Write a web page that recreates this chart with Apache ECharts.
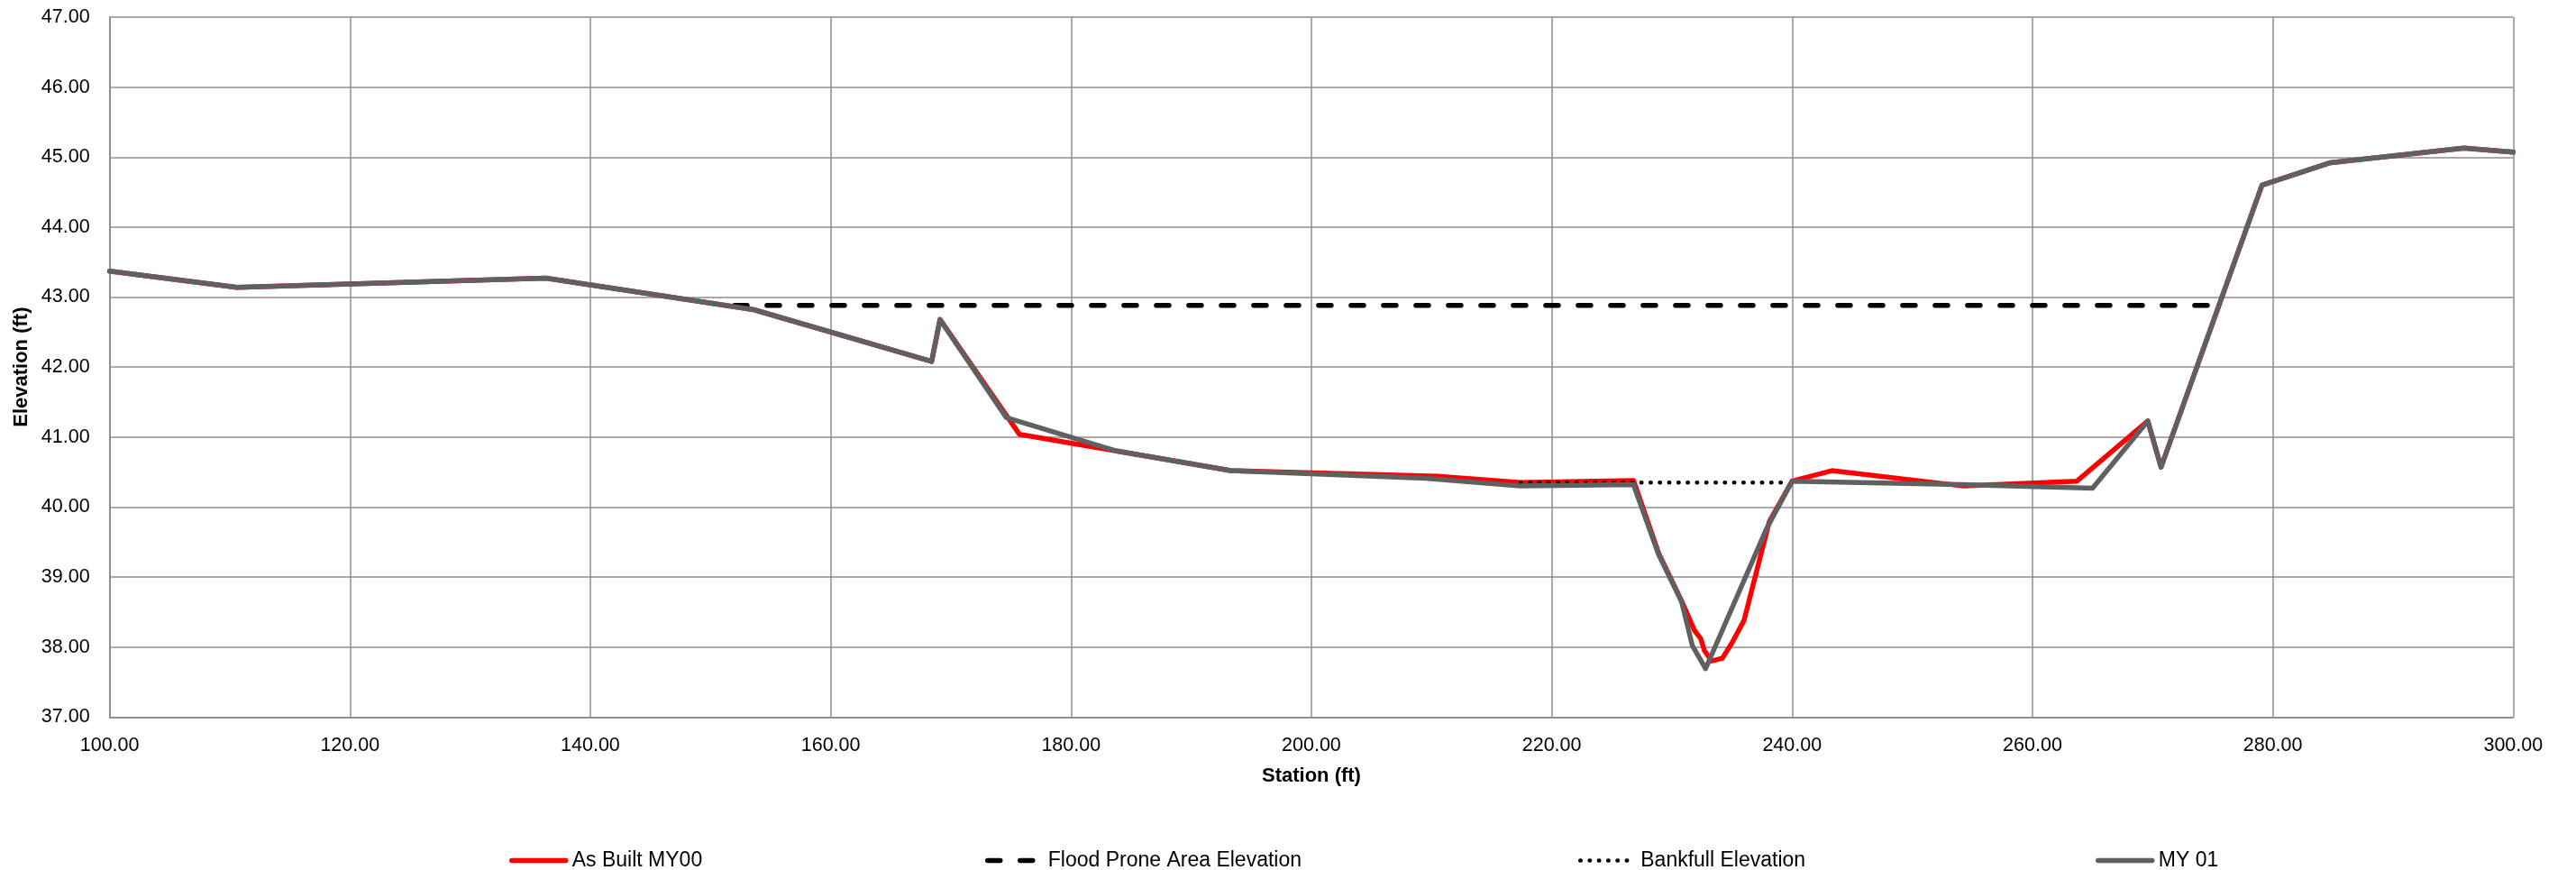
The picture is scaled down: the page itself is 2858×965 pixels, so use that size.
<!DOCTYPE html>
<html>
<head>
<meta charset="utf-8">
<script src="https://cdn.jsdelivr.net/npm/echarts@6/dist/echarts.min.js"></script>
<style>
html,body{margin:0;padding:0;background:#fff;}
#chart{width:2858px;height:965px;}
</style>
</head>
<body>
<div id="chart"></div>
<script>
// ---- data ----
const asBuiltStation = [100, 110.6, 136.3, 153.6, 168.4, 169.1, 175.7, 183.8, 193.3, 210.5, 217.4, 226.8, 228.9, 230.8, 231.9, 232.4, 232.7, 233.3, 234.2, 235.0, 236.0, 238.1, 240.0, 243.3, 254.3, 263.7, 269.6, 270.7, 279.1, 284.8, 295.9, 300];
const asBuiltElev    = [43.37, 43.14, 43.27, 42.82, 42.08, 42.68, 41.04, 40.80, 40.52, 40.44, 40.35, 40.38, 39.34, 38.66, 38.23, 38.12, 37.95, 37.80, 37.84, 38.06, 38.38, 39.79, 40.37, 40.52, 40.30, 40.37, 41.23, 40.57, 44.60, 44.92, 45.13, 45.07];

const my01Station = [100, 110.6, 136.3, 153.6, 168.4, 169.1, 174.6, 183.8, 193.3, 209.5, 217.4, 226.8, 228.9, 230.8, 231.7, 232.8, 237.9, 240.0, 254.1, 265.0, 269.6, 270.7, 279.1, 284.8, 295.9, 300];
const my01Elev    = [43.37, 43.14, 43.27, 42.82, 42.08, 42.68, 41.28, 40.80, 40.52, 40.41, 40.30, 40.32, 39.32, 38.65, 38.02, 37.69, 39.70, 40.37, 40.32, 40.27, 41.23, 40.57, 44.60, 44.92, 45.13, 45.07];

const floodStation = [152.0, 275.4];
const floodElev    = [42.88, 42.88];

const bankfullStation = [217.4, 239.6];
const bankfullElev    = [40.35, 40.35];

const seriesNames = ['As Built MY00', 'Flood Prone Area Elevation', 'Bankfull Elevation', 'MY 01'];
const xTicks = {min: 100, max: 300, interval: 20};
const yTicks = {min: 37, max: 47, interval: 1};

function pairs(xs, ys){ return xs.map((x,i)=>[x, ys[i]]); }

const FONT = '"Liberation Sans", Arial, sans-serif';
const gridColor = '#8e8e8e';

const chart = echarts.init(document.getElementById('chart'), null, {renderer:'canvas'});

const legendLefts = [560, 1088, 1746, 2320];
const legendWidths = [5.5, 5.5, 4.5, 5.5];
const legends = seriesNames.map((n, i) => ({
  data: [n],
  left: legendLefts[i],
  top: 938,
  orient: 'horizontal',
  itemWidth: 60,
  itemHeight: 24,
  itemStyle: {opacity: 0},
  lineStyle: {width: legendWidths[i]},
  textStyle: {fontFamily: FONT, fontSize: 23, color: '#000', padding: [0,0,0,2]},
  selectedMode: false
}));

chart.setOption({
  animation: false,
  backgroundColor: '#fff',
  grid: {left: 121.6, right: 69.7, top: 19, bottom: 169.7, containLabel: false},
  legend: legends,
  xAxis: {
    type: 'value', min: xTicks.min, max: xTicks.max, interval: xTicks.interval,
    name: 'Station (ft)', nameLocation: 'middle', nameGap: 55,
    nameTextStyle: {fontFamily: FONT, fontSize: 22, fontWeight: 'bold', color: '#000'},
    axisLine: {show: true, onZero: false, lineStyle: {color: gridColor, width: 2}},
    axisTick: {show: false},
    axisLabel: {fontFamily: FONT, fontSize: 21.5, color: '#000', margin: 21,
                alignMinLabel: 'center', alignMaxLabel: 'center', hideOverlap: false,
                formatter: v => v.toFixed(2)},
    splitLine: {show: true, lineStyle: {color: gridColor, width: 1.5}}
  },
  yAxis: {
    type: 'value', min: yTicks.min, max: yTicks.max, interval: yTicks.interval,
    name: 'Elevation (ft)', nameLocation: 'middle', nameGap: 83,
    nameTextStyle: {fontFamily: FONT, fontSize: 22, fontWeight: 'bold', color: '#000'},
    axisLine: {show: true, lineStyle: {color: gridColor, width: 2}},
    axisTick: {show: false},
    axisLabel: {fontFamily: FONT, fontSize: 21.5, color: '#000', margin: 22,
                formatter: v => v.toFixed(2)},
    splitLine: {show: true, lineStyle: {color: gridColor, width: 1.5}}
  },
  series: [
    {
      name: seriesNames[0], type: 'line', data: pairs(asBuiltStation, asBuiltElev),
      symbol: 'none', color: '#ff0000',
      lineStyle: {color: '#ff0000', width: 5.5, join: 'round', cap: 'round'}
    },
    {
      name: seriesNames[1], type: 'line', data: pairs(floodStation, floodElev),
      symbol: 'none', color: '#000',
      lineStyle: {color: '#000', width: 5.5, type: [14, 22], cap: 'round'}
    },
    {
      name: seriesNames[2], type: 'line', data: pairs(bankfullStation, bankfullElev),
      symbol: 'none', color: '#000',
      lineStyle: {color: '#000', width: 4.5, type: [0.5, 9.8], cap: 'round'}
    },
    {
      name: seriesNames[3], type: 'line', data: pairs(my01Station, my01Elev),
      symbol: 'none', color: '#606060',
      lineStyle: {color: '#606060', width: 5.5, join: 'round', cap: 'round'}
    }
  ]
});
</script>
</body>
</html>
